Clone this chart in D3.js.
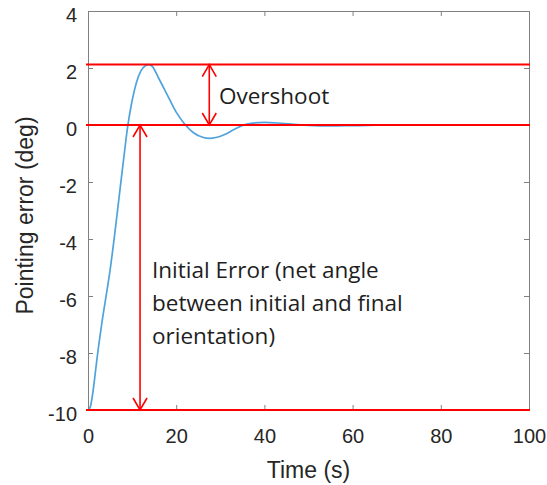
<!DOCTYPE html>
<html>
<head>
<meta charset="utf-8">
<script src="https://cdn.jsdelivr.net/npm/d3@7"></script>
<style>
  body { margin: 0; background: #fff; }
  .axis text { font-family: "Liberation Sans", Arial, sans-serif; font-size: 20px; fill: #262626; }
  .axis path, .axis line { stroke: #808080; }
  .label { font-family: "Liberation Sans", Arial, sans-serif; font-size: 23px; fill: #262626; }
  .note { font-family: "Open Sans", sans-serif; font-size: 22.5px; fill: #1e1e1e; }
</style>
</head>
<body>
<svg id="chart" width="547" height="485"></svg>
<script>
// time (s) and pointing error (deg)
const times = [0, 0.5, 1, 1.5, 2, 3, 4, 5, 6, 7, 8, 9, 10, 11, 12, 13, 13.7, 14.5, 16, 18, 20, 22, 24, 26, 27.5, 29, 31, 33, 35, 37, 40, 43, 46, 50, 55, 60, 70, 80, 90, 100];
const errors = [-10, -9.9, -9.5, -8.9, -8.25, -7.1, -6.1, -5.1, -3.9, -2.6, -1.3, -0.05, 0.85, 1.5, 1.9, 2.08, 2.12, 2.07, 1.65, 1.05, 0.45, 0.02, -0.28, -0.43, -0.47, -0.44, -0.33, -0.17, -0.02, 0.06, 0.09, 0.07, 0.03, -0.01, -0.03, -0.02, 0, 0, 0, 0];

const xTicks = [0, 20, 40, 60, 80, 100];
const yTicks = [-10, -8, -6, -4, -2, 0, 2, 4];

// annotation levels and arrow positions
const refLevels = [2.12, 0, -10];
const overshootArrow = { t: 27.5, from: 0, to: 2.12 };
const initialArrow = { t: 11.8, from: 0, to: -10 };
const overshootText = ["Overshoot"];
const initialText = ["Initial Error (net angle", "between initial and final", "orientation)"];

const svg = d3.select("#chart");
const margin = { top: 11, right: 18, bottom: 75, left: 88 };
const width = 547 - margin.left - margin.right;
const height = 485 - margin.top - margin.bottom;

const x = d3.scaleLinear().domain([0, 100]).range([margin.left, margin.left + width]);
const y = d3.scaleLinear().domain([-10, 4]).range([margin.top + height, margin.top]);

// axes, matlab style box with inward ticks
svg.append("g")
    .attr("class", "axis")
    .attr("transform", "translate(0," + (margin.top + height) + ")")
    .call(d3.axisBottom(x).tickValues(xTicks).tickFormat(d => String(d))
        .tickSizeInner(-5).tickSizeOuter(0).tickPadding(19))
    .call(g => g.selectAll("text").attr("dy", "0.71em"));

svg.append("g")
    .attr("class", "axis")
    .attr("transform", "translate(" + margin.left + ",0)")
    .call(d3.axisLeft(y).tickValues(yTicks).tickFormat(d => String(d))
        .tickSizeInner(-5).tickSizeOuter(0).tickPadding(11))
    .call(g => g.selectAll("text").attr("dy", "0.5em"));

svg.append("g")
    .attr("class", "axis")
    .attr("transform", "translate(0," + margin.top + ")")
    .call(d3.axisTop(x).tickValues(xTicks).tickSizeInner(-5).tickSizeOuter(0).tickFormat(""));

svg.append("g")
    .attr("class", "axis")
    .attr("transform", "translate(" + (margin.left + width) + ",0)")
    .call(d3.axisRight(y).tickValues(yTicks).tickSizeInner(-5).tickSizeOuter(0).tickFormat(""));

// axis titles
svg.append("text")
    .attr("class", "label")
    .attr("text-anchor", "middle")
    .attr("x", margin.left + width / 2)
    .attr("y", 478)
    .text("Time (s)");

svg.append("text")
    .attr("class", "label")
    .attr("text-anchor", "middle")
    .attr("transform", "translate(33," + (margin.top + height / 2 + 5) + ") rotate(-90)")
    .text("Pointing error (deg)");

// response curve
const line = d3.line()
    .x((d, i) => x(times[i]))
    .y(d => y(d))
    .curve(d3.curveMonotoneX);

svg.append("path")
    .datum(errors)
    .attr("fill", "none")
    .attr("stroke", "#4fa3dc")
    .attr("stroke-width", 1.7)
    .attr("d", line);

// red reference lines
svg.selectAll(".ref")
    .data(refLevels)
    .enter()
    .append("line")
    .attr("class", "ref")
    .attr("x1", x(0) - 2)
    .attr("x2", x(100) + 1)
    .attr("y1", d => y(d))
    .attr("y2", d => y(d))
    .attr("stroke", "#ff0000")
    .attr("stroke-width", 2);

// double headed arrows
function arrow(a) {
    const ax = x(a.t);
    const y1 = y(a.from);
    const y2 = y(a.to);
    const dir = y2 < y1 ? -1 : 1;
    const hw = 7, hl = 12;
    const g = svg.append("g")
        .attr("fill", "none")
        .attr("stroke", "#ff0000")
        .attr("stroke-width", 1.6);
    g.append("line").attr("x1", ax).attr("x2", ax).attr("y1", y1).attr("y2", y2);
    g.append("path").attr("d",
        "M" + (ax - hw) + "," + (y2 - dir * hl) + "L" + ax + "," + y2 + "L" + (ax + hw) + "," + (y2 - dir * hl) +
        "M" + (ax - hw) + "," + (y1 + dir * hl) + "L" + ax + "," + y1 + "L" + (ax + hw) + "," + (y1 + dir * hl));
}
arrow(overshootArrow);
arrow(initialArrow);

// annotation text
svg.append("text")
    .attr("class", "note")
    .attr("x", 219)
    .attr("y", 104)
    .text(overshootText[0]);

svg.selectAll(".init-note")
    .data(initialText)
    .enter()
    .append("text")
    .attr("class", "note init-note")
    .attr("x", 152)
    .attr("y", (d, i) => 278 + i * 33)
    .text(d => d);
</script>
</body>
</html>
